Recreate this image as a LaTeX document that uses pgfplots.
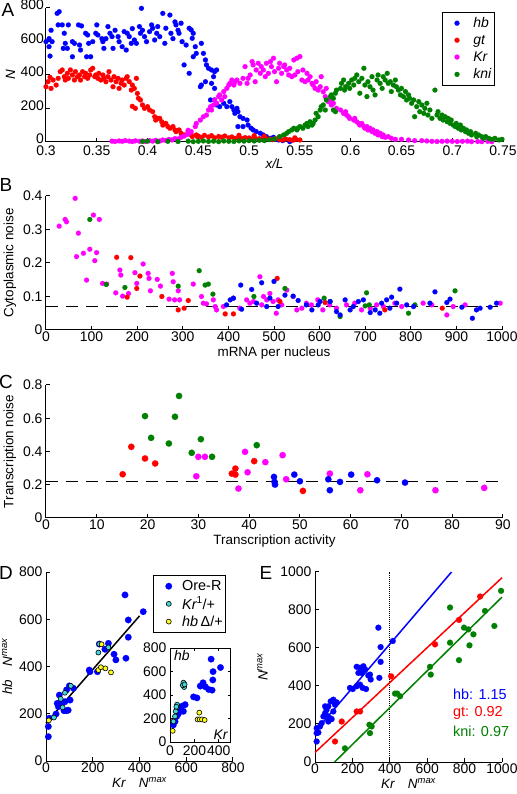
\documentclass[border=0pt]{standalone}
\usepackage{fontspec}
\setmainfont{Liberation Sans}
\usepackage{pgfplots}
\pgfplotsset{compat=1.18}
\definecolor{mgreen}{rgb}{0,0.5,0}
\definecolor{mblue}{rgb}{0,0,1}
\definecolor{mred}{rgb}{1,0,0}
\definecolor{mmag}{rgb}{1,0,1}
\definecolor{mcyan}{rgb}{0.25,0.85,0.85}
\definecolor{myel}{rgb}{1,1,0.1}
\newcommand{\fs}{\fontsize{14}{16}\selectfont}
\newcommand{\fl}{\fontsize{13.5}{16}\selectfont}
\pgfplotsset{
  mat/.style={
    scale only axis,
    axis x line*=bottom, axis y line*=left,
    tick align=inside,
    axis line style={line width=1bp},
    every tick/.style={line width=1bp, black},
    major tick length=4bp,
    tick label style={font=\fs},
    yticklabel style={inner ysep=0bp},
    xticklabel style={inner ysep=1bp, yshift=-1bp},
    label style={font=\fl},
    /pgf/number format/assume math mode=true,
    /pgf/number format/1000 sep={},
    clip=false,
    anchor=south west,
  },
  ms/.style n args={2}{only marks, mark=*, mark size=#2, color=#1, mark options={fill=#1, draw=#1, line width=0.1bp}},
  me/.style n args={2}{only marks, mark=*, mark size=#2, color=black, mark options={fill=#1, draw=black, line width=0.6bp}},
}
\begin{document}
\begin{tikzpicture}
\path[use as bounding box] (0,0) rectangle (517bp,794bp);
% ---------------- A ----------------
\begin{axis}[mat, at={(46bp,652bp)}, width=457bp, height=134bp,
  xmin=0.3, xmax=0.75, ymin=0, ymax=800,
  xtick={0.3,0.35,0.4,0.45,0.5,0.55,0.6,0.65,0.7,0.75}, ytick={0,200,400,600,800},
  xticklabel style={inner ysep=0bp, yshift=-2.5bp},
  yticklabel style={inner ysep=0bp, inner xsep=2bp, yshift=3bp},
  xlabel={\itshape x/L}, ylabel={\itshape N},
  legend image code/.code={\path (0bp,0bp) (26bp,0bp); \draw[#1] plot coordinates {(13bp,0bp)};},
  legend style={at={(0.867,0.97)}, anchor=north west, draw=black, line width=0.8bp, font=\fontsize{14}{15}\selectfont, row sep=2bp, inner xsep=1bp, inner ysep=3bp, column sep=1bp},
  legend cell align=left]
\addplot[ms={mblue}{2.5bp}] coordinates {
(0.300,599)(0.303,617)(0.305,667)(0.303,569)(0.304,513)(0.306,599)(0.311,768)(0.313,778)(0.312,699)(0.316,699)(0.318,649)(0.322,699)(0.319,589)(0.321,559)(0.317,559)(0.326,599)(0.328,589)(0.326,509)(0.332,699)(0.335,693)(0.333,579)(0.334,549)(0.339,649)(0.341,639)(0.340,509)(0.344,509)(0.342,589)(0.346,599)(0.350,699)(0.349,649)(0.351,639)(0.355,617)(0.356,599)(0.357,559)(0.359,617)(0.361,689)(0.363,649)(0.365,629)(0.366,559)(0.368,667)(0.371,629)(0.372,599)(0.375,569)(0.377,659)(0.379,549)(0.380,649)(0.382,629)(0.384,589)(0.385,677)(0.387,609)(0.389,589)(0.392,689)(0.394,798)(0.393,649)(0.395,667)(0.397,629)(0.399,599)(0.402,659)(0.404,699)(0.405,679)(0.407,609)(0.409,649)(0.410,689)(0.412,629)(0.415,768)(0.417,589)(0.418,679)(0.422,758)(0.423,649)(0.425,617)(0.427,717)(0.428,699)(0.430,667)(0.431,649)(0.433,709)(0.434,599)(0.438,579)(0.441,679)(0.436,460)(0.441,410)
(0.443,669)(0.445,649)(0.444,619)(0.447,569)(0.445,509)(0.448,529)(0.453,589)(0.455,529)(0.457,490)(0.458,460)(0.460,440)(0.463,430)(0.466,420)(0.468,430)(0.465,390)(0.457,360)(0.453,340)(0.452,330)(0.463,350)(0.466,320)(0.462,251)(0.466,251)(0.468,221)(0.471,211)(0.475,231)(0.478,211)(0.481,241)(0.483,211)(0.485,191)(0.488,201)(0.486,171)(0.489,181)(0.491,151)(0.494,141)(0.498,131)(0.489,92)(0.494,92)(0.499,101)(0.502,82)(0.504,72)(0.507,62)(0.511,52)(0.514,42)(0.517,32)(0.521,22)(0.524,28)(0.526,16)(0.529,12)(0.533,8)(0.540,2)};
\addlegendentry{\itshape hb}
\addplot[ms={mred}{2.5bp}] coordinates {
(0.300,330)(0.302,360)(0.304,386)(0.307,370)(0.305,320)(0.310,340)(0.312,380)(0.314,420)(0.316,430)(0.318,390)(0.319,370)(0.321,410)(0.322,380)(0.324,430)(0.326,400)(0.328,370)(0.329,420)(0.331,390)(0.333,400)(0.334,370)(0.336,420)(0.338,390)(0.339,410)(0.341,380)(0.343,400)(0.344,430)(0.346,440)(0.348,390)(0.349,400)(0.351,380)(0.352,410)(0.354,370)(0.356,400)(0.357,380)(0.359,360)(0.361,390)(0.362,420)(0.364,370)(0.366,330)(0.367,390)(0.369,360)(0.371,380)(0.372,320)(0.374,350)(0.375,370)(0.377,340)(0.379,380)(0.380,390)(0.382,360)(0.384,310)(0.385,340)(0.387,320)(0.389,380)(0.390,290)(0.391,261)(0.393,251)(0.385,213)(0.388,201)(0.395,221)(0.397,201)(0.400,211)(0.402,191)(0.405,181)(0.407,151)(0.410,141)(0.408,131)(0.412,141)(0.414,121)(0.415,101)(0.418,111)(0.420,92)(0.422,82)(0.425,92)(0.427,72)(0.428,62)(0.431,72)(0.433,52)(0.436,42)(0.440,62)(0.443,42)(0.444,32)(0.448,42)(0.449,32)
(0.450,35)(0.453,28)(0.456,40)(0.460,30)(0.463,38)(0.466,25)(0.470,33)(0.473,28)(0.476,36)(0.480,25)(0.483,30)(0.486,22)(0.490,28)(0.493,20)(0.496,26)(0.500,24)(0.503,18)(0.506,22)(0.510,20)(0.513,16)(0.516,22)(0.520,18)(0.523,14)(0.526,20)(0.530,15)(0.533,12)(0.536,18)(0.540,14)(0.543,10)(0.546,16)(0.550,12)(0.515,35)(0.530,30)(0.545,25)(0.505,38)(0.490,40)};
\addlegendentry{\itshape gt}
\addplot[ms={mmag}{2.5bp}] coordinates {
(0.365,5)(0.368,3)(0.372,6)(0.375,4)(0.378,8)(0.382,5)(0.385,3)(0.388,7)(0.392,4)(0.395,6)(0.398,3)(0.402,8)(0.405,5)(0.408,10)(0.412,6)(0.415,12)(0.418,9)(0.421,15)(0.424,12)(0.427,20)(0.430,18)(0.433,28)(0.436,35)(0.439,45)(0.441,52)(0.440,70)
(0.443,62)(0.447,92)(0.448,111)(0.452,131)(0.455,151)(0.458,161)(0.460,191)(0.462,211)(0.465,221)(0.463,191)(0.466,251)(0.468,231)(0.470,271)(0.471,281)(0.473,251)(0.475,301)(0.476,271)(0.478,320)(0.480,340)(0.481,350)(0.483,370)(0.485,340)(0.486,360)(0.488,370)(0.491,350)(0.494,380)(0.496,450)(0.498,350)(0.499,380)(0.501,400)(0.503,480)(0.504,460)(0.506,360)(0.507,430)(0.509,470)(0.511,410)(0.512,450)(0.514,430)(0.516,390)(0.517,470)(0.519,410)(0.521,480)(0.522,450)(0.524,500)(0.525,420)(0.527,360)(0.529,440)(0.530,470)(0.532,410)(0.534,450)(0.535,460)(0.537,430)(0.539,400)(0.540,440)(0.542,390)(0.544,490)(0.545,400)(0.547,500)(0.548,420)(0.550,510)(0.552,370)(0.553,430)(0.555,360)(0.557,410)(0.558,370)(0.560,390)(0.562,350)(0.563,340)(0.565,320)(0.566,360)(0.568,310)(0.570,330)(0.571,390)(0.573,300)(0.575,271)(0.576,320)(0.578,241)(0.580,251)(0.581,221)(0.583,231)(0.586,201)(0.590,191)(0.593,171)
(0.595,181)(0.596,161)(0.598,151)(0.599,141)(0.603,131)(0.604,141)(0.606,121)(0.608,111)(0.609,101)(0.611,111)(0.613,92)(0.614,82)(0.616,92)(0.617,72)(0.619,82)(0.621,62)(0.622,72)(0.624,52)(0.626,62)(0.627,42)(0.629,52)(0.631,32)(0.632,42)(0.634,28)(0.637,32)(0.640,22)(0.644,16)(0.650,16)(0.657,12)(0.663,8)(0.670,8)(0.680,4)(0.690,4)(0.700,4)(0.710,4)(0.719,2)(0.729,2)(0.739,2)(0.675,6)(0.685,3)(0.695,5)(0.705,3)(0.715,5)(0.725,3)(0.735,4)};
\addlegendentry{\itshape Kr}
\addplot[ms={mgreen}{2.5bp}] coordinates {
(0.395,3)(0.400,5)(0.410,2)(0.420,4)(0.430,3)(0.440,5)(0.445,2)(0.450,4)(0.455,6)(0.460,3)(0.465,5)(0.470,2)(0.475,6)(0.480,4)(0.485,3)(0.490,7)(0.495,5)(0.500,8)(0.505,6)(0.510,10)(0.515,8)(0.520,14)(0.525,18)
(0.530,32)(0.534,42)(0.537,52)(0.539,62)(0.542,72)(0.544,82)(0.547,72)(0.548,82)(0.550,92)(0.553,82)(0.555,101)(0.557,111)(0.558,92)(0.560,121)(0.562,101)(0.563,111)(0.565,131)(0.566,171)(0.568,151)(0.570,191)(0.571,211)(0.573,221)(0.575,191)(0.576,251)(0.580,271)(0.581,281)(0.583,261)(0.585,291)(0.586,310)(0.590,320)(0.591,350)(0.593,370)(0.594,310)(0.585,181)(0.583,191)
(0.595,330)(0.598,350)(0.599,320)(0.601,370)(0.603,340)(0.604,380)(0.606,400)(0.608,360)(0.609,291)(0.611,380)(0.613,440)(0.614,340)(0.616,271)(0.617,360)(0.619,330)(0.621,390)(0.622,310)(0.624,281)(0.626,370)(0.627,400)(0.629,350)(0.631,320)(0.632,390)(0.634,370)(0.636,410)(0.637,350)(0.639,360)(0.640,301)(0.642,340)(0.644,370)(0.645,330)(0.647,310)(0.649,281)(0.650,320)(0.652,271)(0.654,301)(0.655,251)(0.657,281)(0.658,261)(0.660,231)(0.662,251)(0.663,151)(0.665,211)(0.667,241)(0.668,181)(0.670,221)(0.672,171)(0.673,201)(0.675,231)(0.676,161)(0.678,191)(0.680,141)(0.683,310)(0.685,161)(0.686,181)(0.688,141)(0.690,161)(0.691,131)(0.693,151)(0.695,121)(0.696,141)(0.698,111)(0.699,131)(0.701,101)(0.703,92)(0.704,111)(0.706,82)(0.708,101)(0.709,72)(0.711,82)(0.713,62)(0.714,72)(0.716,52)(0.718,62)(0.719,42)(0.723,52)(0.724,32)(0.726,42)(0.729,32)(0.731,22)(0.733,32)(0.736,22)(0.739,16)(0.742,22)(0.746,12)(0.749,16)};
\addlegendentry{\itshape kni}
\end{axis}
% ---------------- B ----------------
\begin{axis}[mat, at={(46bp,464bp)}, width=456bp, height=134bp,
  xmin=0, xmax=1000, ymin=0, ymax=0.4,
  xtick={0,100,...,1000}, ytick={0,0.1,0.2,0.3,0.4},
  xlabel={mRNA per nucleus}, ylabel={Cytoplasmic noise}]
\addplot[ms={mmag}{2.5bp}] coordinates {
(29,0.31)(42,0.33)(45,0.323)(64,0.393)(71,0.289)(67,0.219)(82,0.229)(89,0.149)(96,0.241)(104,0.343)(107,0.207)(111,0.231)(117,0.33)(124,0.139)(133,0.137)(153,0.111)(162,0.179)(164,0.164)(168,0.101)(181,0.109)(195,0.171)(199,0.139)(213,0.197)(224,0.169)(226,0.154)(229,0.117)(244,0.151)(251,0.131)(270,0.092)(277,0.169)(279,0.144)(282,0.09)(290,0.117)(293,0.09)(323,0.137)(341,0.1)(345,0.08)(352,0.078)(367,0.09)(371,0.07)(374,0.06)(389,0.07)(411,0.095)(425,0.065)(440,0.09)(447,0.08)(455,0.085)(469,0.159)(473,0.075)(477,0.1)(484,0.09)(491,0.109)(498,0.085)(505,0.05)(509,0.09)(517,0.075)(528,0.119)(542,0.1)(550,0.06)(561,0.065)(571,0.08)(582,0.075)(596,0.09)(607,0.06)(622,0.075)(637,0.065)(659,0.075)(677,0.08)(692,0.06)(711,0.065)(725,0.075)(740,0.07)(765,0.08)(780,0.07)(827,0.08)(846,0.075)(879,0.045)(893,0.07)(919,0.075)(996,0.08)};
\addplot[ms={mgreen}{2.5bp}] coordinates {
(96,0.33)(132,0.136)(173,0.127)(290,0.131)(336,0.177)(349,0.134)(356,0.137)(366,0.107)(456,0.1)(524,0.124)(610,0.095)(623,0.085)(645,0.04)(700,0.072)(703,0.111)(709,0.075)(795,0.05)(809,0.075)(897,0.117)};
\addplot[ms={mred}{2.5bp}] coordinates {
(155,0.217)(186,0.216)(178,0.098)(199,0.124)(206,0.161)(254,0.1)(290,0.06)(303,0.065)(312,0.088)(393,0.048)(411,0.048)(507,0.154)(513,0.085)(612,0.082)(743,0.06)(869,0.065)};
\addplot[ms={mblue}{2.5bp}] coordinates {
(396,0.075)(404,0.09)(411,0.095)(427,0.134)(429,0.062)(451,0.121)(462,0.08)(473,0.141)(484,0.07)(491,0.095)(500,0.145)(509,0.07)(524,0.104)(542,0.101)(553,0.088)(571,0.075)(583,0.06)(597,0.075)(601,0.085)(623,0.085)(637,0.055)(645,0.045)(656,0.09)(667,0.06)(674,0.07)(685,0.085)(696,0.09)(711,0.052)(722,0.06)(732,0.05)(736,0.08)(747,0.09)(754,0.065)(758,0.098)(769,0.08)(776,0.122)(791,0.075)(806,0.07)(842,0.08)(853,0.114)(879,0.082)(886,0.092)(912,0.068)(935,0.035)(944,0.06)(952,0.065)(974,0.068)(988,0.08)};
\addplot[black, line width=1.5bp, dash pattern=on 12bp off 8bp] coordinates {(0,0.07)(1000,0.07)};
\end{axis}
% ---------------- C ----------------
\begin{axis}[mat, at={(46bp,276bp)}, width=457bp, height=133bp,
  xmin=0, xmax=90, ymin=0, ymax=0.8,
  xtick={0,10,...,90}, ytick={0,0.2,0.4,0.6,0.8},
  xlabel={Transcription activity}, ylabel={Transcription noise}]
\addplot[ms={mgreen}{3.2bp}] coordinates {
(19.5,0.613)(20.7,0.482)(24.2,0.448)(25.4,0.609)(26.2,0.734)(28.7,0.392)(30.5,0.474)(32.7,0.368)(41.5,0.438)};
\addplot[ms={mred}{3.2bp}] coordinates {
(15.1,0.263)(16.8,0.428)(19.5,0.358)(21.5,0.328)(36.6,0.267)(37.3,0.297)(37.3,0.261)(41.0,0.342)(50.6,0.163)};
\addplot[ms={mmag}{3.2bp}] coordinates {
(29.6,0.251)(30.0,0.368)(31.3,0.368)(37.9,0.177)(39.2,0.398)(39.7,0.275)(43.2,0.336)(46.6,0.378)(47.3,0.233)(55.9,0.267)(61.9,0.167)(63.3,0.263)(76.7,0.167)(86.3,0.181)};
\addplot[ms={mblue}{3.2bp}] coordinates {
(44.9,0.247)(45.0,0.217)(45.1,0.201)(48.9,0.261)(50.0,0.221)(55.6,0.233)(55.9,0.167)(57.9,0.217)(60.1,0.261)(65.2,0.227)(70.7,0.213)};
\addplot[black, line width=1.5bp, dash pattern=on 12bp off 8bp] coordinates {(0,0.22)(90,0.22)};
\end{axis}
% ---------------- D ----------------
\begin{axis}[mat, at={(46bp,33bp)}, width=187bp, height=189bp,
  xmin=0, xmax=800, ymin=0, ymax=800,
  xtick={0,200,...,800}, ytick={0,200,...,800},
  xlabel={{\itshape Kr}\quad{\itshape N}\textsuperscript{\itshape max}},
  ylabel={{\itshape hb}\quad{\itshape N}\textsuperscript{\itshape max}},
  legend image code/.code={\path (0bp,0bp) (24bp,0bp); \draw[#1] plot coordinates {(14bp,0bp)};},
  legend style={at={(0.572,0.984)}, anchor=north west, draw=black, line width=0.8bp, font=\fontsize{14.5}{15}\selectfont, row sep=1bp, inner xsep=1bp, inner ysep=3bp, column sep=1bp},
  legend cell align=left]
\addplot[ms={mblue}{3.3bp}] coordinates {
(338,703)(416,632)(352,597)(352,524)(342,435)(291,452)(299,428)(267,498)(252,473)(228,495)(220,378)(185,385)(188,378)(117,308)(100,318)(88,301)(103,258)(81,251)(63,244)(53,230)(48,244)(57,279)(77,213)(88,213)(43,199)(14,181)(10,146)(10,103)(95,215)(67,243)};
\addlegendentry{Ore-R}
\addplot[black, line width=1.5bp, forget plot] coordinates {(0,160)(400,614)};
\addplot[me={mcyan}{2.5bp}] coordinates {
(228,495)(224,459)(267,481)(106,318)(81,289)(63,263)(71,227)(34,184)};
\addlegendentry{{\itshape Kr}\textsuperscript{1}/+}
\addplot[me={myel}{2.5bp}] coordinates {
(238,494)(224,385)(235,397)(254,392)(278,375)(12,172)};
\addlegendentry{{\itshape hb}\,Δ/+}
\end{axis}
% inset
\begin{axis}[scale only axis, at={(170bp,52bp)}, anchor=south west, width=61bp, height=94bp,
  xmin=0, xmax=500, ymin=0, ymax=800, xtick={0,200,400}, ytick={0,200,...,800},
  tick align=inside, axis line style={line width=1bp}, every tick/.style={line width=0.8bp, black},
  major tick length=3bp, tick label style={font=\fs},
  yticklabel style={inner ysep=0bp},
  /pgf/number format/assume math mode=true, clip=false]
\addplot[ms={mblue}{3.3bp}] coordinates {
(337,705)(353,599)(414,634)(351,528)(271,504)(248,476)(290,470)(317,447)(345,441)(193,384)(221,375)(124,318)(97,304)(83,275)(69,241)(55,218)(41,175)(28,146)(110,261)};
\addplot[me={mcyan}{2.5bp}] coordinates {
(110,505)(116,468)(105,482)(120,490)(58,318)(55,289)(47,261)(41,218)(28,175)(52,300)};
\addplot[me={myel}{2.5bp}] coordinates {
(240,250)(226,192)(243,192)(262,192)(284,187)(22,95)};
\node[font=\fs\itshape, anchor=north west, inner sep=1.5bp] at (rel axis cs:0.04,0.99) {hb};
\node[font=\fs\itshape, anchor=south east, inner sep=1.5bp] at (rel axis cs:0.97,0.01) {Kr};
\end{axis}
% ---------------- E ----------------
\begin{axis}[mat, at={(315bp,32bp)}, width=187bp, height=190bp,
  xmin=0, xmax=1000, ymin=0, ymax=1000,
  xtick={0,200,...,1000}, ytick={0,200,...,1000},
  xlabel={{\itshape Kr}\quad{\itshape N}\textsuperscript{\itshape max}},
  ylabel={{\itshape N}\textsuperscript{\itshape max}},
  ylabel style={yshift=6bp}]
\addplot[black, densely dotted, line width=1bp] coordinates {(400,0)(400,1000)};
\addplot[ms={mblue}{3bp}] coordinates {
(339,707)(416,637)(351,605)(351,527)(344,443)(223,501)(241,496)(259,504)(268,487)(250,469)(232,469)(285,455)(298,434)(294,460)(223,399)(241,407)(255,390)(187,390)(202,384)(273,384)(98,328)(107,302)(84,319)(71,293)(62,275)(54,293)(59,249)(45,240)(80,231)(89,226)(71,213)(36,205)(27,187)(9,178)(9,152)(18,155)(9,108)(116,314)(98,266)(54,257)};
\addplot[mblue, line width=1.5bp] coordinates {(0,160)(730,1000)};
\addplot[ms={mred}{3bp}] coordinates {
(407,451)(642,619)(770,748)(883,871)(223,266)(241,266)(143,213)(107,108)};
\addplot[mred, line width=1.5bp] coordinates {(0,50)(1000,970)};
\addplot[ms={mgreen}{3bp}] coordinates {
(722,813)(995,901)(909,795)(959,716)(797,707)(820,698)(847,672)(826,614)(722,628)(770,536)(615,501)(619,460)(428,360)(440,360)(455,346)(291,196)(303,187)(294,152)(160,72)};
\addplot[mgreen, line width=1.5bp] coordinates {(105,0)(1000,868)};
\node[font=\fontsize{14.5}{16}\selectfont, text=mblue, anchor=west] at (axis cs:720,354) {hb: 1.15};
\node[font=\fontsize{14.5}{16}\selectfont, text=mred, anchor=west] at (axis cs:720,259) {gt: 0.92};
\node[font=\fontsize{14.5}{16}\selectfont, text=mgreen, anchor=west] at (axis cs:720,159) {kni: 0.97};
\end{axis}
% panel letters
\node[font=\fontsize{19}{20}\selectfont] at (8bp,784bp) {A};
\node[font=\fontsize{19}{20}\selectfont] at (6bp,609bp) {B};
\node[font=\fontsize{19}{20}\selectfont] at (6bp,412bp) {C};
\node[font=\fontsize{19}{20}\selectfont] at (6bp,221bp) {D};
\node[font=\fontsize{19}{20}\selectfont] at (266bp,221bp) {E};
\end{tikzpicture}
\end{document}
